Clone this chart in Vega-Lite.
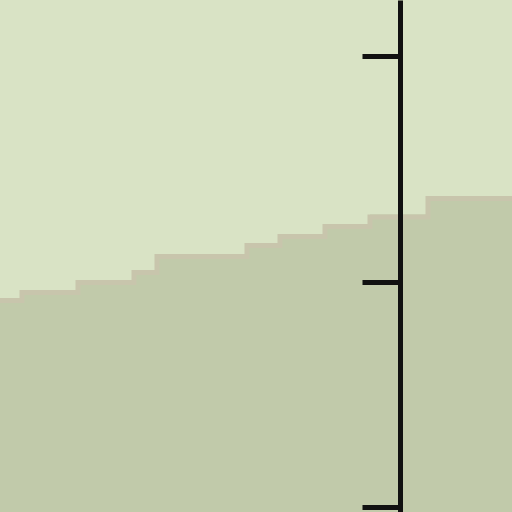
{
  "$schema": "https://vega.github.io/schema/vega-lite/v6.json",
  "width": 512,
  "height": 512,
  "autosize": {"type": "none"},
  "padding": 0,
  "background": "#d9e3c5",
  "config": {"view": {"stroke": null, "fill": "#d9e3c5"}},
  "data": {
    "values": [
      {"x": 0, "v": 0.927},
      {"x": 22, "v": 0.962},
      {"x": 78, "v": 1.007},
      {"x": 134, "v": 1.051},
      {"x": 157, "v": 1.122},
      {"x": 247, "v": 1.171},
      {"x": 280, "v": 1.211},
      {"x": 325, "v": 1.255},
      {"x": 370, "v": 1.297},
      {"x": 428, "v": 1.379},
      {"x": 512, "v": 1.379}
    ]
  },
  "encoding": {
    "x": {
      "field": "x",
      "type": "quantitative",
      "scale": {"domain": [0, 512], "nice": false, "zero": false},
      "axis": null
    },
    "y": {
      "field": "v",
      "type": "quantitative",
      "scale": {"domain": [-0.0222, 2.2484], "nice": false, "zero": false},
      "axis": {
        "orient": "left",
        "offset": -400,
        "values": [0, 1, 2],
        "labels": false,
        "title": null,
        "grid": false,
        "domainColor": "#111111",
        "domainWidth": 5,
        "tickColor": "#111111",
        "tickWidth": 5,
        "tickSize": 38,
        "zindex": 1
      }
    }
  },
  "layer": [
    {
      "mark": {"type": "area", "interpolate": "step-after", "color": "#c1caaa"},
      "encoding": {"y2": {"datum": -0.0222}}
    },
    {
      "mark": {"type": "line", "interpolate": "step-after", "color": "#c8c5ac", "strokeWidth": 5, "yOffset": 2.5}
    }
  ]
}
